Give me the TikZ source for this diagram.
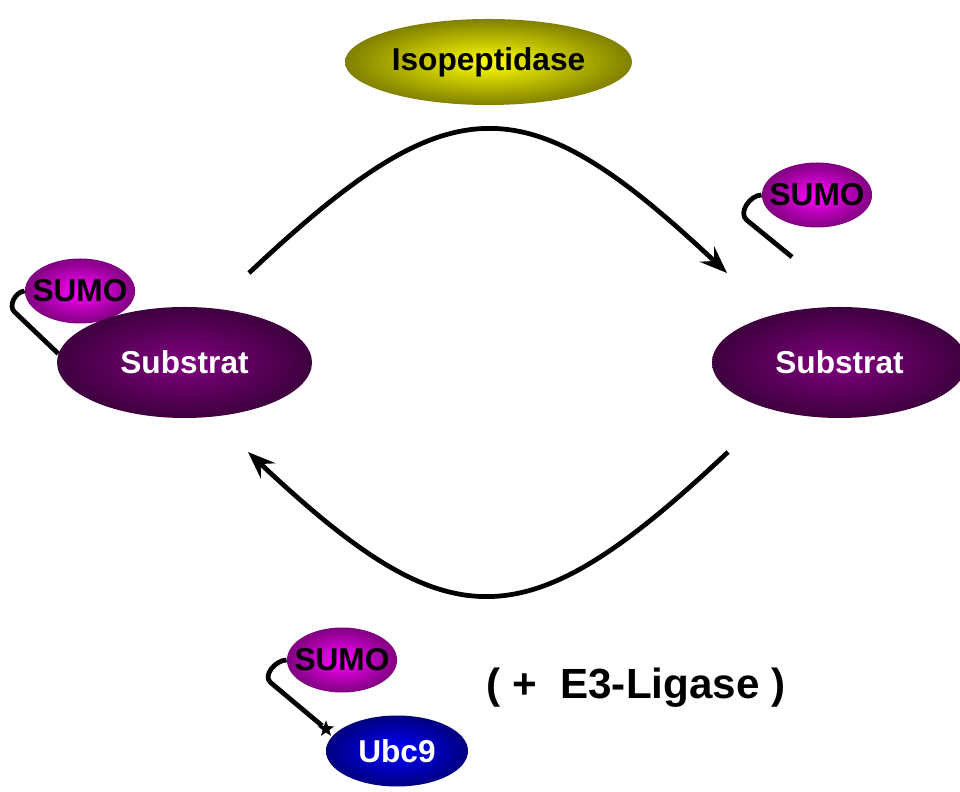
\documentclass[tikz,border=0pt]{standalone}
\usepackage{fontspec}
\setmainfont{Liberation Sans}
\usetikzlibrary{arrows.meta,shapes.geometric}
\definecolor{subIn}{RGB}{128,0,128}
\definecolor{subOut}{RGB}{62,0,62}
\definecolor{sumoIn}{RGB}{255,0,255}
\definecolor{sumoOut}{RGB}{128,0,128}
\definecolor{isoIn}{RGB}{255,255,0}
\definecolor{isoOut}{RGB}{128,128,0}
\definecolor{ubcIn}{RGB}{0,0,255}
\definecolor{ubcOut}{RGB}{0,0,128}

\begin{document}
\begin{tikzpicture}[
  blob/.style={ellipse, inner sep=0pt, font=\fontsize{18}{20}\selectfont\bfseries},
  substrat/.style={blob, minimum width=5.1cm, minimum height=2.22cm, inner color=subIn, outer color=subOut, text=white},
  sumo/.style={blob, inner xsep=-0.17cm, minimum width=2.2cm, minimum height=1.3cm, inner color=sumoIn, outer color=sumoOut},
  tether/.style={line width=2.7pt},
  cycle/.style={line width=2.7pt, -{Stealth[length=0.55cm,width=0.42cm,inset=0.2cm]}}
]
\useasboundingbox (0,0) rectangle (19.2,15.82);
\node[blob, minimum width=5.74cm, minimum height=1.72cm, inner color=isoIn, outer color=isoOut] (iso) at (9.77,14.58) {Isopeptidase};
\node[sumo] (sumoL) at (1.60,10.0) {SUMO};
\node[substrat] (subL) at (3.69,8.57) {Substrat};
\node[substrat] (subR) at (16.79,8.57) {Substrat};
\node[sumo] (sumoR) at (16.34,11.92) {SUMO};
\node[sumo] (sumoB) at (6.84,2.62) {SUMO};
\node[blob, minimum width=2.84cm, minimum height=1.42cm, inner color=ubcIn, outer color=ubcOut, text=white] (ubc) at (7.94,0.80) {Ubc9};
\node[star, star points=5, star point ratio=2.4, fill=black, inner sep=0pt, minimum size=0.34cm] (lnk) at (6.52,1.24) {};
\node[font=\fontsize{24}{28}\selectfont\bfseries] (e3) at (12.72,2.06) {( +\ \ E3-Ligase )};
\coordinate (topL) at (4.98,10.36);
\coordinate (topR) at (14.54,10.36);
\coordinate (botR) at (14.56,6.78);
\coordinate (botL) at (4.96,6.78);
\coordinate (tipR) at (15.84,10.68);
\draw[cycle] (topL) .. controls (9.04,14.18) and (10.48,14.18) .. (topR);
\draw[cycle] (botR) .. controls (10.50,2.96) and (9.02,2.96) .. (botL);
\draw[tether] (sumoL.west) to[out=185,in=138] ++(-0.2,-0.42) -- (subL.176);
\draw[tether] (sumoR.west) to[out=180,in=139] ++(-0.3,-0.5) -- (tipR);
\draw[tether] (sumoB.west) to[out=180,in=139] ++(-0.32,-0.45) -- (lnk);
\end{tikzpicture}
\end{document}
